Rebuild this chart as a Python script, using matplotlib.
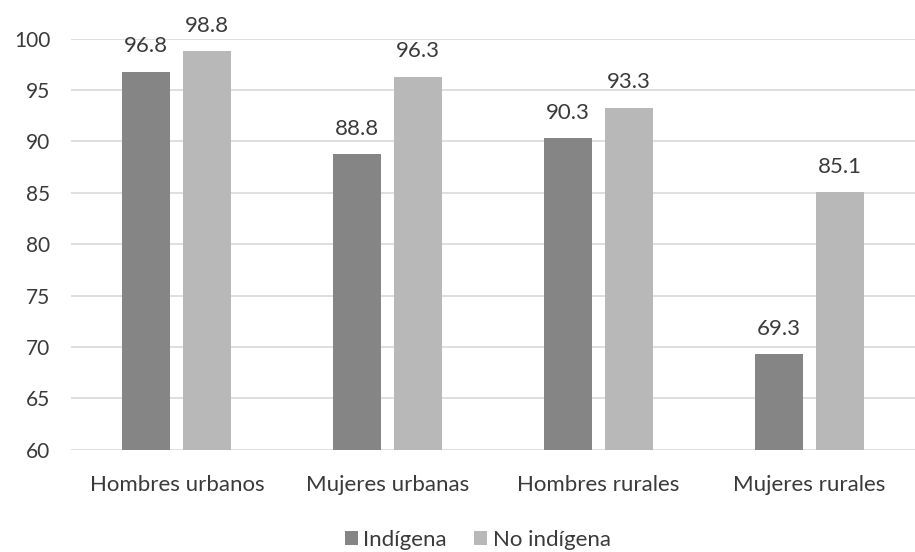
import matplotlib
matplotlib.use("Agg")
import matplotlib.pyplot as plt
import numpy as np

categories = ["Hombres urbanos", "Mujeres urbanas", "Hombres rurales", "Mujeres rurales"]
indigena = [96.8, 88.8, 90.3, 69.3]
no_indigena = [98.8, 96.3, 93.3, 85.1]
series_labels = ["Indígena", "No indígena"]
yticks = [60, 65, 70, 75, 80, 85, 90, 95, 100]

plt.rcParams["font.family"] = ["Lato", "DejaVu Sans"]
text_color = "#3a3a3a"
dark = "#858585"
light = "#b8b8b8"

fig = plt.figure(figsize=(9.15, 5.52), dpi=100)
ax = fig.add_axes([0.078, 0.185, 0.922, 0.745])

x = np.arange(len(categories))
w = 0.227
gap = 0.062
off = (w + gap) / 2
b1 = ax.bar(x - off, indigena, width=w, color=dark, label=series_labels[0], zorder=3)
b2 = ax.bar(x + off, no_indigena, width=w, color=light, label=series_labels[1], zorder=3)

for bars, vals in ((b1, indigena), (b2, no_indigena)):
    for rect, v in zip(bars, vals):
        ax.annotate(f"{v:.1f}", (rect.get_x() + rect.get_width() / 2, v),
                    xytext=(0, 11), textcoords="offset points",
                    ha="center", va="bottom", fontsize=16, color=text_color,
                    annotation_clip=False)

ax.set_xlim(-0.5, len(categories) - 0.5)
ax.set_ylim(60, 100)
ax.set_yticks(yticks)
ax.set_xticks(x)
ax.set_xticklabels(categories, fontsize=16)
ax.tick_params(axis="both", length=0, labelcolor=text_color)
ax.tick_params(axis="y", labelsize=15, pad=15)
ax.tick_params(axis="x", pad=18)
ax.grid(axis="y", color="#d9d9d9", linewidth=1.2, zorder=0)
for s in ax.spines.values():
    s.set_visible(False)

fig.legend(handles=[b1, b2], labels=series_labels, loc="center",
           bbox_to_anchor=(0.522, 0.022), ncol=2, frameon=False,
           fontsize=16, labelcolor=text_color, handlelength=0.6,
           handleheight=0.6, handletextpad=0.25, columnspacing=1.2)

fig.savefig("out.png", dpi=100)
